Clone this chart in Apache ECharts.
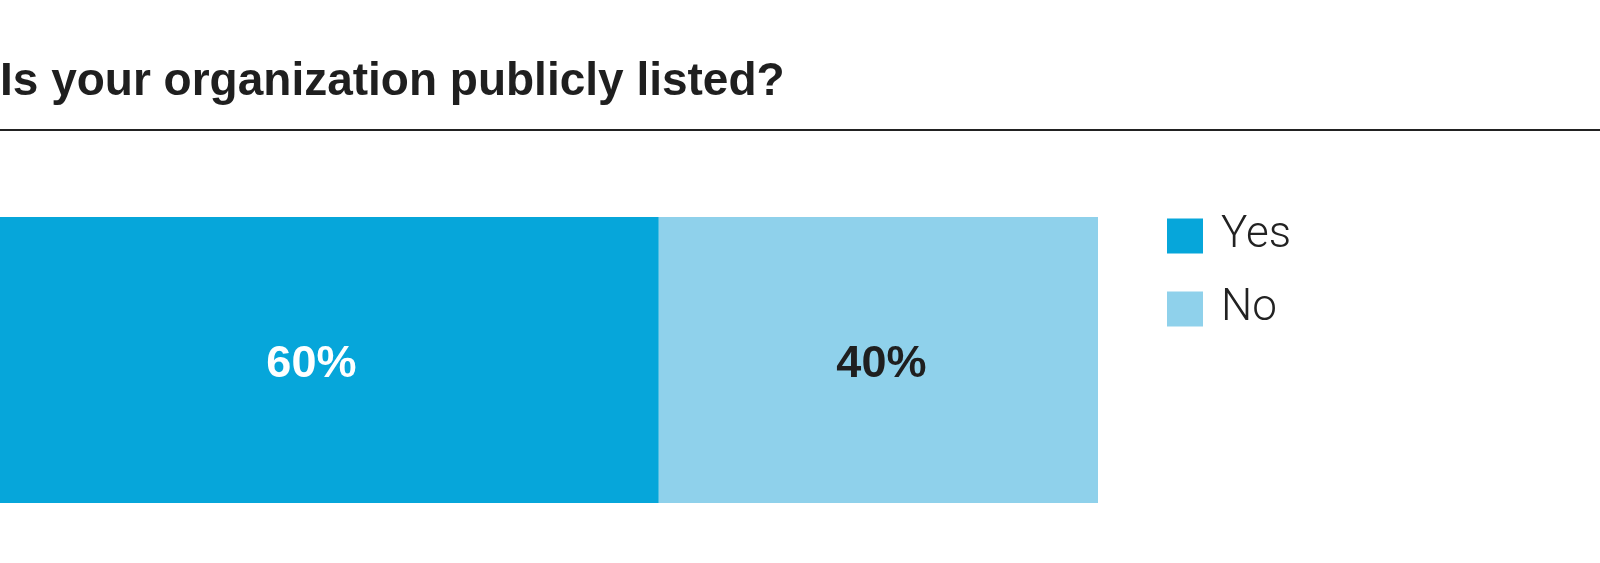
<!DOCTYPE html>
<html>
<head>
<meta charset="utf-8">
<script src="https://cdn.jsdelivr.net/npm/echarts@6/dist/echarts.min.js"></script>
<style>
  html, body { margin: 0; padding: 0; background: #fff; }
  #chart { width: 1600px; height: 563px; }
</style>
</head>
<body>
<div id="chart"></div>
<script>
  // data
  var categories = ['Listed'];
  var seriesNames = ['Yes', 'No'];
  var yesValues = [60];
  var noValues = [40];

  var chart = echarts.init(document.getElementById('chart'));

  chart.setOption({
    animation: false,
    color: ['#06a6da', '#8fd1eb'],
    title: {
      text: 'Is your organization publicly listed?',
      left: 0,
      top: 59,
      padding: 0,
      textStyle: {
        fontFamily: 'Liberation Sans',
        fontWeight: 'bold',
        fontSize: 46,
        lineHeight: 46,
        color: '#1f1f1f'
      }
    },
    legend: {
      data: seriesNames,
      orient: 'vertical',
      left: 1167,
      top: 214,
      padding: 0,
      icon: 'rect',
      itemWidth: 36,
      itemHeight: 35,
      itemGap: 29,
      textStyle: {
        fontFamily: 'Roboto',
        fontWeight: 300,
        fontSize: 44,
        color: '#222',
        padding: [0, 0, 0, 13]
      }
    },
    grid: {
      left: 0,
      right: 502,
      top: 217,
      bottom: 60,
      containLabel: false
    },
    xAxis: {
      type: 'value',
      min: 0,
      max: 100,
      show: false
    },
    yAxis: {
      type: 'category',
      data: categories,
      show: false
    },
    series: [
      {
        name: seriesNames[0],
        type: 'bar',
        stack: 'total',
        barWidth: '100%',
        data: yesValues,
        label: {
          show: true,
          position: 'inside',
          offset: [-18, 5],
          formatter: '{c}%',
          fontFamily: 'Liberation Sans',
          fontWeight: 'bold',
          fontSize: 45,
          color: '#fff'
        }
      },
      {
        name: seriesNames[1],
        type: 'bar',
        stack: 'total',
        barWidth: '100%',
        data: noValues,
        label: {
          show: true,
          position: 'inside',
          offset: [3, 5],
          formatter: '{c}%',
          fontFamily: 'Liberation Sans',
          fontWeight: 'bold',
          fontSize: 45,
          color: '#1f1f1f'
        }
      }
    ],
    graphic: [
      {
        type: 'line',
        shape: { x1: 0, y1: 130, x2: 1600, y2: 130 },
        style: { stroke: '#222', lineWidth: 2 }
      }
    ]
  });
</script>
</body>
</html>
